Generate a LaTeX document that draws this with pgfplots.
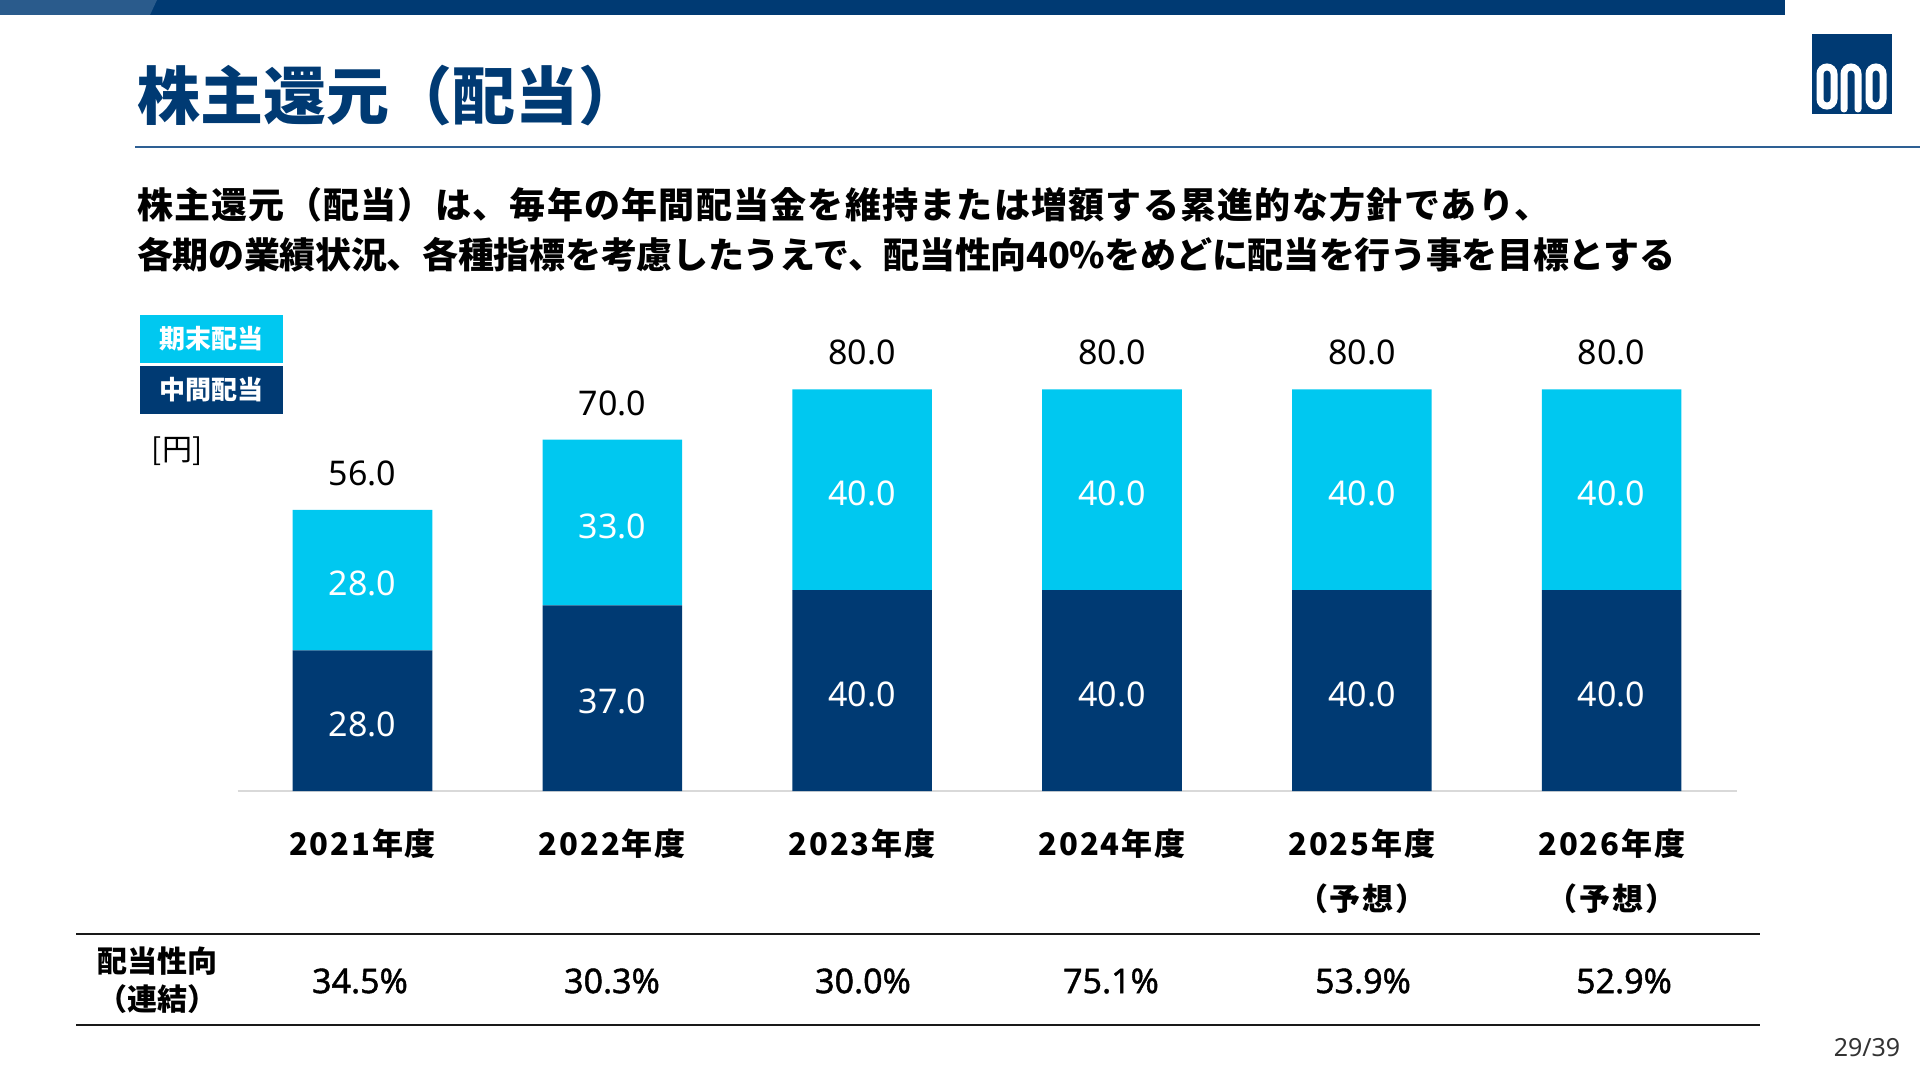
\documentclass[border=0pt]{standalone}
\usepackage{fontspec}
\usepackage{pgfplots}
\pgfplotsset{compat=1.18}
\setmainfont{Noto Sans CJK JP}
\newfontfamily\latinfont{Noto Sans}
\newfontfamily\latinsemi{Noto Sans}[FakeBold=1.2]
\newfontfamily\catfamily{Noto Sans CJK JP}[LetterSpace=6]
\newfontfamily\subAfamily{Noto Sans CJK JP}[LetterSpace=3.5]
\newfontfamily\subBfamily{Noto Sans CJK JP}[LetterSpace=-0.9]
\definecolor{navy}{HTML}{003A73}
\definecolor{cyanb}{HTML}{00C8F0}
\definecolor{bannerlight}{HTML}{2A5B8C}
\definecolor{ruleblue}{HTML}{2E6094}
\definecolor{axgray}{HTML}{D9D9D9}
\begin{document}
\begin{tikzpicture}[x=1pt,y=1pt]
\path[use as bounding box] (0,0) rectangle (1920,1080);
% banner
\fill[navy] (0,1065) rectangle (1785,1080);
\fill[bannerlight] (0,1065) -- (0,1080) -- (157,1080) -- (150,1065) -- cycle;
% title
\node[anchor=west, inner sep=0, text=navy, font=\fontsize{63}{68}\selectfont\bfseries] at (137,984) {株主還元（配当）};
\draw[ruleblue, line width=2.2pt] (135,933) -- (1920,933);
% logo
\fill[navy] (1812,966) rectangle (1892,1046);
\begin{scope}[white, line width=7pt, line cap=round]
\draw[rounded corners=7pt] (1820,974) rectangle (1834,1013);
\draw (1844,971) -- (1844,1006) arc(180:0:7) -- (1858,971);
\draw[rounded corners=7pt] (1869,974) rectangle (1883,1013);
\end{scope}
% subtitle
\node[anchor=west, inner sep=0, font=\fontsize{36}{40}\selectfont\subAfamily\bfseries] at (137,875.5) {株主還元（配当）は、毎年の年間配当金を維持または増額する累進的な方針であり、};
\node[anchor=west, inner sep=0, font=\fontsize{36}{40}\selectfont\subBfamily\bfseries] at (137,825.3) {各期の業績状況、各種指標を考慮したうえで、配当性向40\%をめどに配当を行う事を目標とする};
% legend
\fill[cyanb] (140,717) rectangle (283,765);
\fill[navy] (140,666) rectangle (283,714);
\node[text=white, font=\fontsize{26}{28}\selectfont\bfseries] at (211.5,741) {期末配当};
\node[text=white, font=\fontsize{26}{28}\selectfont\bfseries] at (211.5,690) {中間配当};
\node[font=\fontsize{30}{32}\selectfont] at (177,629) {[円]};
% bars
\begin{axis}[
  at={(237.6pt,289pt)}, anchor=south west,
  scale only axis, width=1499pt, height=502pt,
  xmin=-0.5, xmax=5.5, ymin=0, ymax=100,
  ybar stacked, bar width=139.6pt,
  axis x line*=bottom, axis y line=none,
  x axis line style={draw=axgray, line width=1.5pt},
  xtick={0,1,2,3,4,5},
  xticklabels={2021年度,2022年度,2023年度,2024年度,{2025年度\\（予想）},{2026年度\\（予想）}},
  major tick length=0pt,
  xticklabel style={font=\fontsize{31}{55}\selectfont\catfamily\bfseries, align=center, anchor=north, inner sep=0pt, yshift=-38pt},
  clip=false,
]
\addplot[fill=navy, draw=none] coordinates {(0,28) (1,37) (2,40) (3,40) (4,40) (5,40)};
\addplot[fill=cyanb, draw=none] coordinates {(0,28) (1,33) (2,40) (3,40) (4,40) (5,40)};
\end{axis}
% value labels
\begin{axis}[
  at={(237.6pt,289pt)}, anchor=south west,
  scale only axis, width=1499pt, height=502pt,
  xmin=-0.5, xmax=5.5, ymin=0, ymax=100,
  hide axis, clip=false,
  /pgf/number format/assume math mode=true,
]
\addplot[draw=none, mark=none, nodes near coords={\pgfmathprintnumber[fixed,fixed zerofill,precision=1,assume math mode=true]{\pgfplotspointmeta}}, point meta=explicit,
  every node near coord/.style={anchor=center, text=white, inner sep=0pt, yshift=-3.5pt, font=\fontsize{34}{36}\selectfont\latinfont}]
  table[meta=v] {
x y v
0 14 28
1 18.5 37
2 20 40
3 20 40
4 20 40
5 20 40
0 42 28
1 53.5 33
2 60 40
3 60 40
4 60 40
5 60 40
};
\addplot[draw=none, mark=none, nodes near coords={\pgfmathprintnumber[fixed,fixed zerofill,precision=1,assume math mode=true]{\pgfplotspointmeta}}, point meta=explicit,
  every node near coord/.style={anchor=center, text=black, inner sep=0pt, yshift=36.5pt, font=\fontsize{34}{36}\selectfont\latinfont}]
  table[meta=v] {
x y v
0 56 56
1 70 70
2 80 80
3 80 80
4 80 80
5 80 80
};
\end{axis}
% table
\draw[black!90, line width=2.5pt] (76,146) -- (1760,146);
\draw[black!90, line width=2.5pt] (76,55) -- (1760,55);
\node[font=\fontsize{30}{32}\selectfont\bfseries] at (157,119) {配当性向};
\node[font=\fontsize{30}{32}\selectfont\bfseries] at (157,81) {（連結）};
\begin{scope}[every node/.style={font=\fontsize{34}{36}\selectfont\latinsemi}]
\node at (360,99) {34.5\%};
\node at (612,99) {30.3\%};
\node at (863,99) {30.0\%};
\node at (1111,99) {75.1\%};
\node at (1363,99) {53.9\%};
\node at (1624,99) {52.9\%};
\end{scope}
\node[text=black!80, font=\fontsize{25}{27}\selectfont\latinfont] at (1867,32) {29/39};
\end{tikzpicture}
\end{document}
